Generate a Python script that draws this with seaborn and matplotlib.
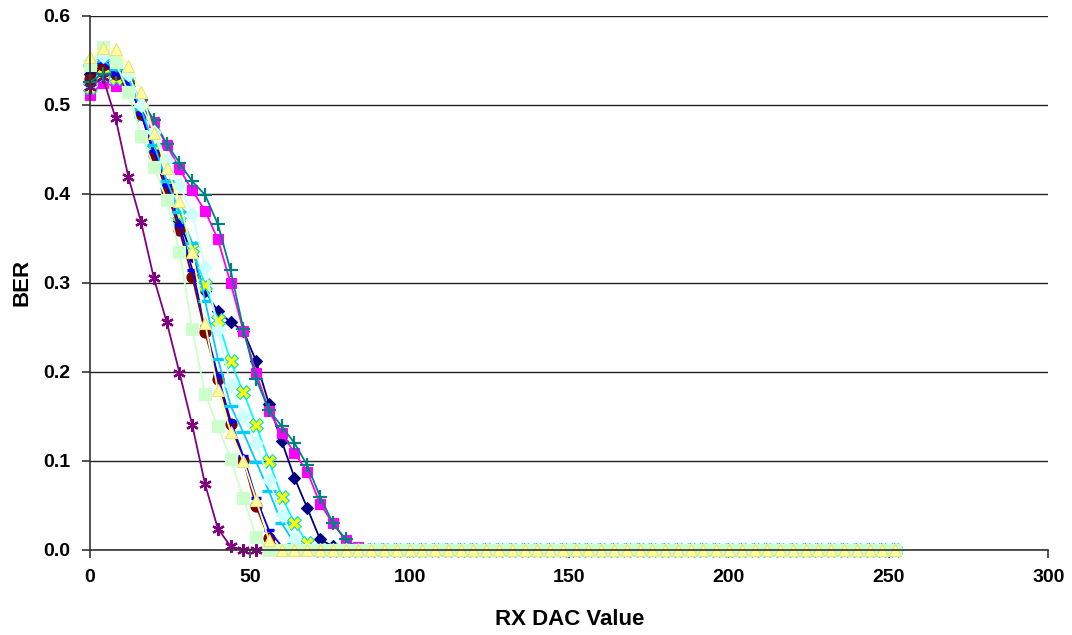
import matplotlib
matplotlib.use("Agg")
import matplotlib.pyplot as plt
import numpy as np
import pandas as pd
import seaborn as sns

# RX DAC sweep, step 4 from 0 to 252
dac = list(range(0, 256, 4))

# BER, up to the last non-zero point; the rest sits on 0.0
navy_diamond = [0.535, 0.545, 0.535, 0.525, 0.49, 0.447, 0.41, 0.37, 0.33, 0.291,
                0.268, 0.256, 0.246, 0.212, 0.164, 0.122, 0.081, 0.047, 0.012, 0.004]
magenta_square = [0.511, 0.525, 0.521, 0.522, 0.504, 0.481, 0.455, 0.428, 0.404, 0.381,
                  0.349, 0.300, 0.246, 0.199, 0.156, 0.131, 0.109, 0.088, 0.052, 0.030,
                  0.011, 0.003]
cyan_x = [0.52, 0.535, 0.53, 0.525, 0.49, 0.45, 0.41, 0.376, 0.339, 0.298,
          0.258, 0.212, 0.177, 0.14, 0.10, 0.06, 0.03, 0.008]
purple_star = [0.52, 0.531, 0.485, 0.419, 0.368, 0.305, 0.256, 0.199, 0.140, 0.074,
               0.024, 0.004]
darkred_circle = [0.529, 0.545, 0.535, 0.525, 0.49, 0.444, 0.403, 0.359, 0.307, 0.245,
                  0.192, 0.141, 0.101, 0.049, 0.013]
teal_plus = [0.526, 0.535, 0.535, 0.528, 0.505, 0.483, 0.456, 0.435, 0.414, 0.399,
             0.366, 0.314, 0.248, 0.192, 0.157, 0.139, 0.12, 0.095, 0.06, 0.03, 0.012]
blue_dash = [0.545, 0.548, 0.535, 0.525, 0.49, 0.448, 0.41, 0.365, 0.315, 0.252,
             0.196, 0.145, 0.105, 0.058, 0.022, 0.004]
sky_longdash = [0.545, 0.55, 0.54, 0.53, 0.495, 0.455, 0.415, 0.38, 0.345, 0.28,
                0.215, 0.162, 0.132, 0.099, 0.066, 0.03, 0.007]
lightcyan_diamond = [0.55, 0.555, 0.55, 0.535, 0.5, 0.47, 0.438, 0.41, 0.377, 0.318,
                     0.247, 0.185, 0.151, 0.12, 0.079, 0.039, 0.012]
lightgreen_square = [0.545, 0.565, 0.548, 0.514, 0.465, 0.43, 0.393, 0.335, 0.248, 0.175,
                     0.139, 0.102, 0.058, 0.015]
lightyellow_triangle = [0.554, 0.564, 0.563, 0.544, 0.515, 0.468, 0.429, 0.392, 0.335, 0.255,
                        0.18, 0.133, 0.1, 0.056, 0.011]


def full(vals):
    return vals + [0.0] * (len(dac) - len(vals))


# name, values, line colour, marker, face, edge, size
series = [
    ("s1", navy_diamond, "#000080", "D", "#000080", "#000080", 6.5),
    ("s2", magenta_square, "#FF00FF", "s", "#FF00FF", "#FF00FF", 7.5),
    ("s3", cyan_x, "#00FFFF", "X", "#FFFF00", "#00DDDD", 9.5),
    ("s4", purple_star, "#800080", (6, 2, 0), "#800080", "#800080", 9),
    ("s5", darkred_circle, "#800000", "o", "#800000", "#800000", 8),
    ("s6", teal_plus, "#008080", "+", "#008080", "#008080", 10),
    ("s7", blue_dash, "#0000FF", "_", "#0000FF", "#0000FF", 7),
    ("s8", sky_longdash, "#00CCFF", "_", "#00CCFF", "#00CCFF", 10),
    ("s9", lightcyan_diamond, "#CCFFFF", "D", "#CCFFFF", "#CCFFFF", 7),
    ("s10", lightgreen_square, "#CCFFCC", "s", "#CCFFCC", "#CCFFCC", 8.5),
    ("s11", lightyellow_triangle, "#FFFF99", "^", "#FFFF99", "#E8E08A", 9),
]

sns.set_theme(style="white")
plt.rcParams["font.family"] = ["Liberation Sans", "DejaVu Sans"]
plt.rcParams["font.weight"] = "bold"

fig = plt.figure(figsize=(10.72, 6.35), dpi=100)
ax = fig.add_axes([0.084, 0.134, 0.894, 0.841])

for name, vals, col, mk, fc, ec, ms in series:
    df = pd.DataFrame({"dac": dac, "ber": full(vals)})
    if mk in ("+", "_") or isinstance(mk, tuple):
        # line-type markers
        ew = 2.4 if mk == "_" else 1.6
        sns.lineplot(data=df, x="dac", y="ber", ax=ax, color=col, linewidth=1.3,
                     marker=mk, markersize=ms, markeredgewidth=ew,
                     markeredgecolor=ec, clip_on=False)
    else:
        sns.lineplot(data=df, x="dac", y="ber", ax=ax, color=col, linewidth=1.3,
                     marker=mk, markersize=ms, markerfacecolor=fc,
                     markeredgecolor=ec, markeredgewidth=0.8, clip_on=False)

ax.set_xlim(0, 300)
ax.set_ylim(0, 0.6)
ax.set_xticks(np.arange(0, 301, 50))
ax.set_yticks(np.arange(0, 0.61, 0.1))
ax.set_yticklabels([f"{v:.1f}" for v in np.arange(0, 0.61, 0.1)])
ax.yaxis.grid(True, color="#222222", linewidth=1.0)
ax.xaxis.grid(False)
ax.set_axisbelow(True)

for side in ("top", "right"):
    ax.spines[side].set_visible(False)
for side in ("left", "bottom"):
    ax.spines[side].set_color("#333333")
    ax.spines[side].set_linewidth(1.2)

ax.tick_params(axis="both", direction="out", length=6, width=1.2, color="#333333",
               labelsize=14, labelcolor="black", pad=8, left=True, bottom=True)
for lab in ax.get_xticklabels() + ax.get_yticklabels():
    lab.set_fontweight("bold")

ax.set_xlabel("RX DAC Value", fontsize=16, fontweight="bold", labelpad=16,
              color="black")
ax.set_ylabel("BER", fontsize=16, fontweight="bold", labelpad=8, color="black")
if ax.get_legend() is not None:
    ax.get_legend().remove()

fig.savefig("out.png", dpi=100)
